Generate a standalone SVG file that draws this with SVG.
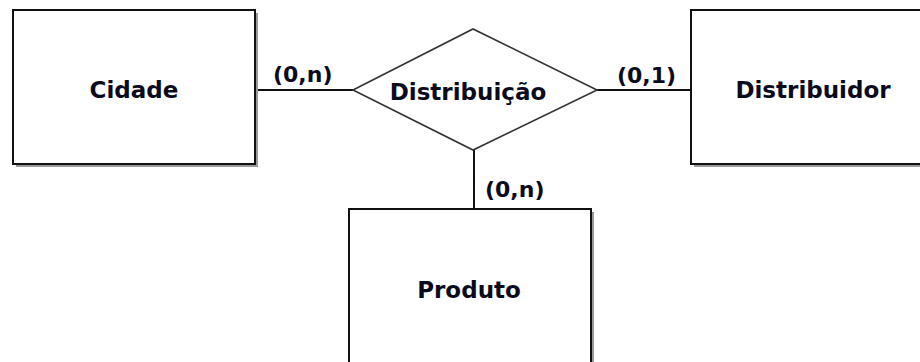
<svg xmlns="http://www.w3.org/2000/svg" width="920" height="362" viewBox="0 0 920 362">
<style>
.box{fill:#fff;stroke:#111;stroke-width:2}
.shadow{fill:#9a9a9a}
.rel{fill:#fff;stroke:#333;stroke-width:1.6}
.lbl{font-family:"DejaVu Sans",Verdana,sans-serif;font-weight:bold;font-size:23px;fill:#0b0b1e;text-anchor:middle}
.card{font-family:"DejaVu Sans",Verdana,sans-serif;font-weight:bold;font-size:22px;fill:#0b0b1e}
.conn{stroke:#111;stroke-width:2;fill:none}
</style>
<rect width="920" height="362" fill="#fff"/>
<g id="connectors">
<line class="conn" x1="255" y1="90" x2="353" y2="90"/>
<line class="conn" x1="597" y1="90" x2="691" y2="90"/>
<line class="conn" x1="474" y1="150" x2="474" y2="209"/>
<text class="card" x="273" y="82">(0,n)</text>
<text class="card" x="617" y="83">(0,1)</text>
<text class="card" x="485" y="197">(0,n)</text>
</g>
<g id="cidade">
<rect class="shadow" x="16" y="13" width="242" height="154"/>
<rect class="box" x="13" y="10" width="242" height="154"/>
<text class="lbl" x="134" y="98">Cidade</text>
</g>
<g id="distribuidor">
<rect class="shadow" x="694" y="13" width="242" height="154"/>
<rect class="box" x="691" y="10" width="242" height="154"/>
<text class="lbl" x="813" y="98">Distribuidor</text>
</g>
<g id="produto">
<rect class="shadow" x="352" y="212" width="242" height="154"/>
<rect class="box" x="349" y="209" width="242" height="154"/>
<text class="lbl" x="469" y="298">Produto</text>
</g>
<g id="distribuicao">
<polygon class="rel" points="353,90 473,29 597,90 473,150"/>
<text class="lbl" x="468" y="100">Distribuição</text>
</g>
</svg>
